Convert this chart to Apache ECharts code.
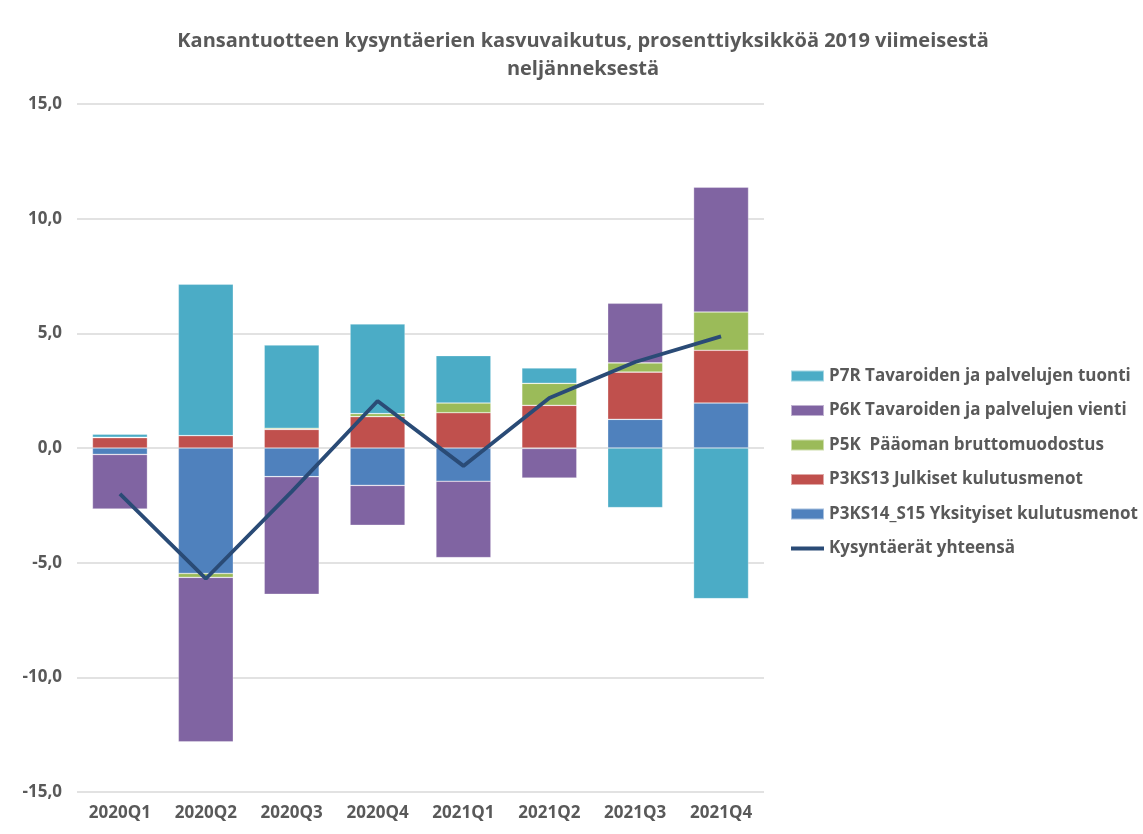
<!DOCTYPE html>
<html>
<head>
<meta charset="utf-8">
<script src="https://cdn.jsdelivr.net/npm/echarts@6/dist/echarts.min.js"></script>
<style>
  html, body { margin: 0; padding: 0; background: #fff; }
  #chart { width: 1143px; height: 834px; }
</style>
</head>
<body>
<div id="chart"></div>
<script>
  // neljännekset
  var quarters = ['2020Q1', '2020Q2', '2020Q3', '2020Q4', '2021Q1', '2021Q2', '2021Q3', '2021Q4'];
  // kasvuvaikutukset, prosenttiyksikköä
  var yksityiset = [-0.28, -5.47, -1.25, -1.63, -1.45, -0.02, 1.25, 1.96];
  var julkiset = [0.45, 0.54, 0.81, 1.37, 1.54, 1.86, 2.06, 2.30];
  var paaoma = [0.02, -0.17, 0.05, 0.13, 0.42, 0.96, 0.40, 1.67];
  var vienti = [-2.38, -7.17, -5.13, -1.74, -3.33, -1.29, 2.60, 5.44];
  var tuonti = [0.13, 6.60, 3.63, 3.91, 2.07, 0.67, -2.60, -6.57];
  var yhteensa = [-2.0, -5.7, -1.9, 2.05, -0.78, 2.18, 3.75, 4.87];

  var names = {
    tuonti: 'P7R Tavaroiden ja palvelujen tuonti',
    vienti: 'P6K Tavaroiden ja palvelujen vienti',
    paaoma: 'P5K  Pääoman bruttomuodostus',
    julkiset: 'P3KS13 Julkiset kulutusmenot',
    yksityiset: 'P3KS14_S15 Yksityiset kulutusmenot',
    yhteensa: 'Kysyntäerät yhteensä'
  };

  var textColor = '#595959';
  var myChart = echarts.init(document.getElementById('chart'));

  function barSeries(name, data, color){
    return {
      name: name,
      type: 'bar',
      stack: 'kysynta',
      barCategoryGap: '36%',
      data: data,
      itemStyle: { color: color, borderColor: 'rgba(255,255,255,0.5)', borderWidth: 0.6 }
    };
  }

  var option = {
    animation: false,
    title: {
      text: 'Kansantuotteen kysyntäerien kasvuvaikutus, prosenttiyksikköä 2019 viimeisestä\nneljänneksestä',
      left: 578,
      textAlign: 'center',
      top: 22,
      textStyle: { fontFamily: 'Open Sans', fontSize: 20, fontWeight: 'bold', color: textColor, lineHeight: 28 }
    },
    legend: {
      orient: 'vertical',
      left: 785,
      top: 362,
      itemWidth: 33,
      itemHeight: 11,
      itemGap: 16.5,
      textStyle: { fontFamily: 'Open Sans', fontSize: 17, fontWeight: 'bold', color: textColor, lineHeight: 18 },
      data: [
        { name: names.tuonti, icon: 'rect' },
        { name: names.vienti, icon: 'rect' },
        { name: names.paaoma, icon: 'rect' },
        { name: names.julkiset, icon: 'rect' },
        { name: names.yksityiset, icon: 'rect' },
        { name: names.yhteensa, icon: 'path://M0,0 L100,0 L100,12 L0,12 Z' }
      ]
    },
    grid: { left: 77, right: 379, top: 104, bottom: 42 },
    xAxis: {
      type: 'category',
      data: quarters,
      axisLine: { show: false, onZero: false },
      axisTick: { show: false },
      axisLabel: { fontFamily: 'Open Sans', fontSize: 17, fontWeight: 'bold', color: textColor, margin: 13 }
    },
    yAxis: {
      type: 'value',
      min: -15,
      max: 15,
      interval: 5,
      axisLine: { show: false },
      axisTick: { show: false },
      splitLine: { lineStyle: { color: '#D9D9D9', width: 1.5 } },
      axisLabel: {
        fontFamily: 'Open Sans', fontSize: 17, fontWeight: 'bold', color: textColor, margin: 15,
        formatter: function(v){ return v.toFixed(1).replace('.', ','); }
      }
    },
    series: [
      barSeries(names.yksityiset, yksityiset, '#4F81BD'),
      barSeries(names.julkiset, julkiset, '#C0504D'),
      barSeries(names.paaoma, paaoma, '#9BBB59'),
      barSeries(names.vienti, vienti, '#8064A2'),
      barSeries(names.tuonti, tuonti, '#4BACC6'),
      {
        name: names.yhteensa,
        type: 'line',
        data: yhteensa,
        symbol: 'none',
        z: 5,
        lineStyle: { color: '#2A4B76', width: 3.8 },
        itemStyle: { color: '#2A4B76' }
      }
    ]
  };
  myChart.setOption(option);
</script>
</body>
</html>
